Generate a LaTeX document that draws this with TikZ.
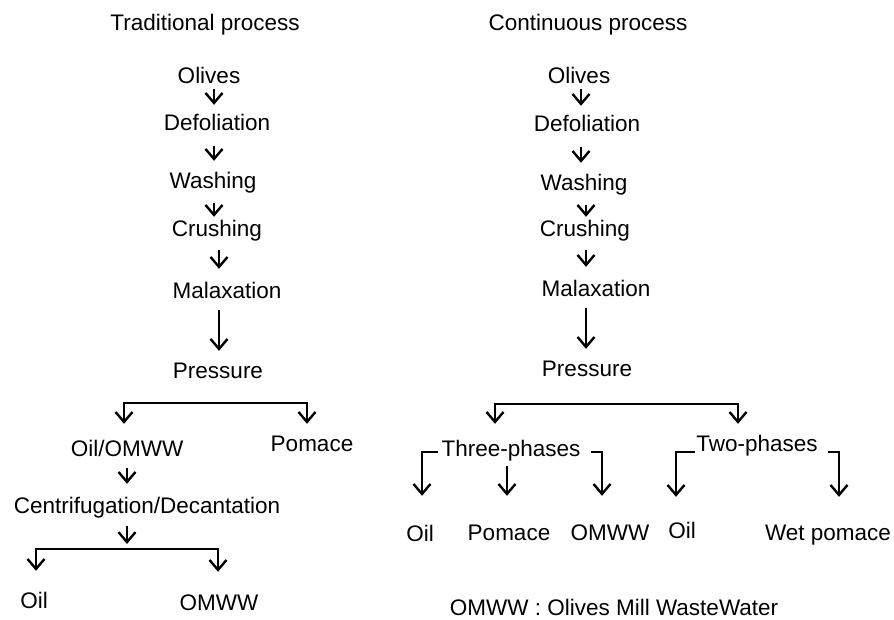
\documentclass[tikz,border=0pt]{standalone}
\usepackage{fontspec}
\setmainfont{Liberation Sans}
\usetikzlibrary{arrows.meta}

\begin{document}
\begin{tikzpicture}[x=1pt,y=-1pt,line width=2.4pt,
  arr/.style 2 args={-{Straight Barb[length=10pt,width=17pt]},shorten <=#1,shorten >=#2},
  dbl/.style 2 args={{Straight Barb[length=10pt,width=17pt]}-{Straight Barb[length=10pt,width=17pt]},shorten <=#1,shorten >=#2}]%
\useasboundingbox (0,0) rectangle (894,619);
\begin{scope}[font=\fontsize{22.5}{27}\selectfont]%
\tikzstyle{every node}=[inner sep=0pt,text height=16pt,text depth=0pt] %%
\node (tit1) at (205,22)  {Traditional process}; %%
\node (oli1) at (209,75)  {Olives}; %%
\node (def1) at (217,122)  {Defoliation}; %%
\node (was1) at (213,180)  {Washing}; %%
\node (cru1) at (217,228)  {Crushing}; %%
\node (mal1) at (227,290)  {Malaxation}; %%
\node (pre1) at (218,370)  {Pressure}; %%
\node (oom1) at (127,448)  {Oil/OMWW}; %%
\node (pom1) at (312,443)  {Pomace}; %%
\node (cen1) at (147,505)  {Centrifugation/Decantation}; %%
\node (oil1) at (34,600)  {Oil}; %%
\node (omw1) at (219,602)  {OMWW}; %%
\node (tit2) at (588,22)  {Continuous process}; %%
\node (oli2) at (579,75)  {Olives}; %%
\node (def2) at (587,123)  {Defoliation}; %%
\node (was2) at (584,182)  {Washing}; %%
\node (cru2) at (585,228)  {Crushing}; %%
\node (mal2) at (596,288)  {Malaxation}; %%
\node (pre2) at (587,368)  {Pressure}; %%
\node (thr2) at (511,448)  {Three-phases}; %%
\node (two2) at (757,443)  {Two-phases}; %%
\node (oil2) at (420,533)  {Oil}; %%
\node (pom2) at (509,532)  {Pomace}; %%
\node (omw2) at (610,532)  {OMWW}; %%
\node (oil3) at (682,530)  {Oil}; %%
\node (wet3) at (828,532)  {Wet pomace}; %%
\node (note) at (614,607)  {OMWW : Olives Mill WasteWater}; %%
\end{scope}
\coordinate (sp1) at (214,0);
\coordinate (sp2) at (219,0);
\coordinate (sp3) at (581,0);
\coordinate (sp4) at (586,0);
\coordinate (bl1) at (124,403);
\coordinate (br1) at (307,403);
\coordinate (bm2) at (127,549);
\coordinate (bl2) at (36,549);
\coordinate (br2) at (218,549);
\coordinate (bl3) at (495,404);
\coordinate (br3) at (738,404);
\coordinate (tl3) at (422,452);
\coordinate (tm3) at (507,452);
\coordinate (tr3) at (602,452);
\coordinate (tl4) at (676,452);
\coordinate (tr4) at (839,452);
\draw[arr={5pt}{8pt}] (oli1.south -| sp1)--(def1.north -| sp1); %%
\draw[arr={15pt}{10pt}] (def1.south -| sp1)--(was1.north -| sp1); %%
\draw[arr={14pt}{2pt}] (was1.south -| sp1)--(cru1.north -| sp1); %%
\draw[arr={13pt}{12pt}] (cru1.south -| sp2)--(mal1.north -| sp2); %%
\draw[arr={11pt}{10pt}] (mal1.south -| sp2)--(pre1.north -| sp2); %%
\draw[dbl={15pt}{10pt}] (bl1 |- oom1.north)--(bl1)--(br1)--(br1 |- pom1.north); %%
\draw[arr={11pt}{12pt}] (oom1.south -| bm2)--(cen1.north -| bm2); %%
\draw[arr={12pt}{5pt}] (cen1.south -| bm2)--(bm2); %%
\draw[dbl={20pt}{21pt}] (bl2 |- oil1.north)--(bl2)--(br2)--(br2 |- omw1.north); %%
\draw[arr={5pt}{8pt}] (oli2.south -| sp3)--(def2.north -| sp3); %%
\draw[arr={15pt}{10pt}] (def2.south -| sp3)--(was2.north -| sp3); %%
\draw[arr={14pt}{2pt}] (was2.south -| sp4)--(cru2.north -| sp4); %%
\draw[arr={13pt}{12pt}] (cru2.south -| sp4)--(mal2.north -| sp4); %%
\draw[arr={11pt}{10pt}] (mal2.south -| sp4)--(pre2.north -| sp4); %%
\draw[dbl={15pt}{10pt}] (bl3 |- thr2.north)--(bl3)--(br3)--(br3 |- two2.north); %%
\draw[arr={2pt}{28pt}] (thr2.west |- tl3)--(tl3)--(tl3 |- oil2.north); %%
\draw[arr={9pt}{27pt}] (thr2.south -| tm3)--(pom2.north -| tm3); %%
\draw[arr={9pt}{27pt}] (thr2.east |- tr3)--(tr3)--(tr3 |- omw2.north); %%
\draw[arr={0pt}{24pt}] (two2.west |- tl4)--(tl4)--(tl4 |- oil3.north); %%
\draw[arr={9pt}{26pt}] (two2.east |- tr4)--(tr4)--(tr4 |- wet3.north); %%
\end{tikzpicture}
\end{document}
